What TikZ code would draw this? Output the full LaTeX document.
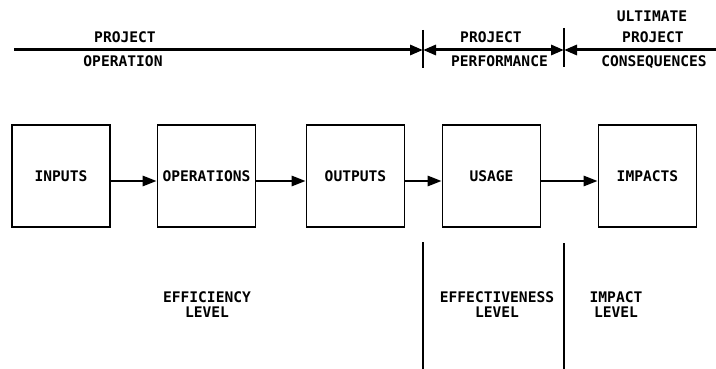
\documentclass[tikz,border=0pt]{standalone}
\usepackage{fontspec}
\setmonofont{DejaVu Sans Mono}
\usepackage{tikz}
\usetikzlibrary{arrows.meta}

\begin{document}
\begin{tikzpicture}[x=1pt,y=-1pt,
  >={Triangle[length=13pt,width=10pt]},
  t/.style={font=\fontsize{14.6}{15}\selectfont\ttfamily\bfseries,
            inner sep=0pt,align=center},
  blk/.style={t,draw,line width=1.6pt,minimum width=98pt,minimum height=102pt},
  con/.style={-{Triangle[length=14pt,width=10pt]},line width=2.6pt},
  top/.style={line width=3pt},
  sep/.style={line width=1.5pt}]
\useasboundingbox (0,0) rectangle (716,369);

\node[blk] (inp) at (61,176)    {INPUTS};
\node[blk] (ops) at (206.5,176) {OPERATIONS};
\node[blk] (out) at (355.5,176) {OUTPUTS};
\node[blk] (use) at (491.5,176) {USAGE};
\node[blk] (imp) at (647.5,176) {IMPACTS};

\draw[con] ([yshift=-5pt]inp.east) -- ([yshift=-5pt]ops.west);
\draw[con] ([yshift=-5pt]ops.east) -- ([yshift=-5pt]out.west);
\draw[con] ([yshift=-5pt]out.east) -- ([yshift=-5pt]use.west);
\draw[con] ([yshift=-5pt]use.east) -- ([yshift=-5pt]imp.west);

\coordinate (l0) at (14,50);
\coordinate (l1) at (423,50);
\coordinate (l2) at (564,50);
\coordinate (l3) at (716,50);
\draw[top,->] (l0) -- (l1);
\draw[top,<->] (l1) -- (l2);
\draw[top,<-] (l2) -- (l3);
\draw[sep] ([yshift=20pt]l1) -- ([yshift=-18pt]l1);
\draw[sep] ([yshift=22pt]l2) -- ([yshift=-17pt]l2);

\node[t,anchor=base] (po1) at (125,43)   {PROJECT};
\node[t,anchor=base] (po2) at (123,67)   {OPERATION};
\node[t,anchor=base] (pp1) at (491,43)   {PROJECT};
\node[t,anchor=base] (pp2) at (499.5,67) {PERFORMANCE};
\node[t,anchor=base] (uc1) at (652,22)   {ULTIMATE};
\node[t,anchor=base] (uc2) at (653,43)   {PROJECT};
\node[t,anchor=base] (uc3) at (654,67)   {CONSEQUENCES};

\coordinate (d1) at (423,242);
\coordinate (d2) at (564,243);
\draw[sep] (d1) -- (d1 |- 0,369);
\draw[sep] (d2) -- (d2 |- 0,369);

\node[t,anchor=base] (eff) at (207,317) {EFFICIENCY\\LEVEL};
\node[t,anchor=base] (efv) at (497,317) {EFFECTIVENESS\\LEVEL};
\node[t,anchor=base] (ipl) at (616,317) {IMPACT\\LEVEL};
\end{tikzpicture}
\end{document}
